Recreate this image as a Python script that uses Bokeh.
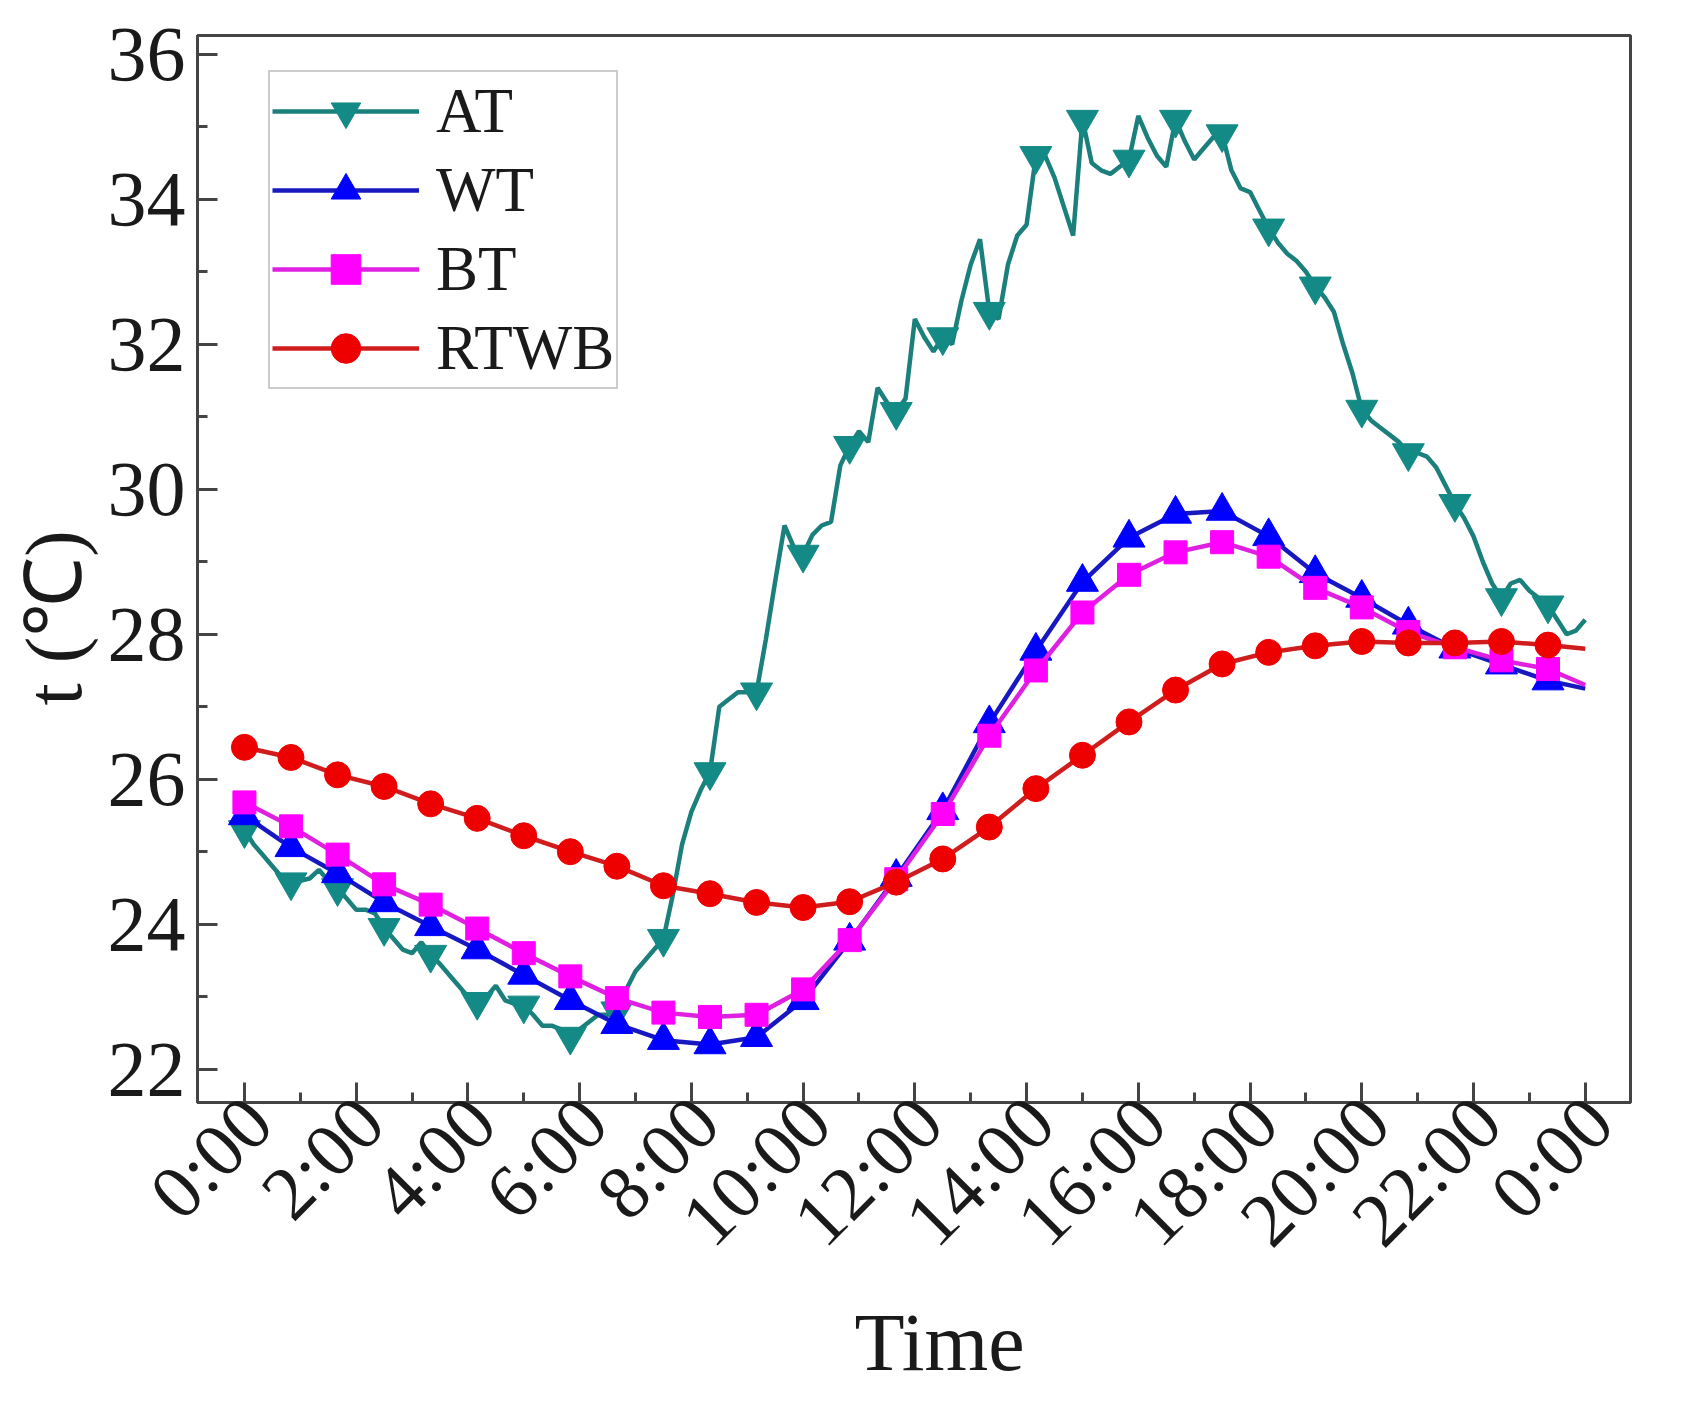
import numpy as np
from math import pi
from bokeh.plotting import figure
from bokeh.models import FixedTicker, Legend, LegendItem, Title, LinearAxis, Range1d
from bokeh.embed import file_html
from bokeh.resources import INLINE

# AT logged every 10 min, 0:00 .. 24:00
at_minutes = np.arange(0, 1441, 10)
at_temp = [
    25.3, 25.1, 24.95, 24.8, 24.65,
    24.58, 24.6, 24.63, 24.75, 24.6,
    24.5, 24.35, 24.2, 24.2, 24.15,
    23.95, 23.8, 23.65, 23.6, 23.75,
    23.58, 23.45, 23.3, 23.15, 23.0,
    22.93, 23.0, 23.15, 22.95, 22.9,
    22.88, 22.75, 22.6, 22.6, 22.55,
    22.45, 22.55, 22.65, 22.75, 22.75,
    22.8, 23.1, 23.35, 23.5, 23.65,
    23.8, 24.4, 25.1, 25.55, 25.85,
    26.1, 27.0, 27.1, 27.2, 27.2,
    27.2, 27.93, 28.73, 29.5, 29.2,
    29.1, 29.37, 29.5, 29.55, 30.33,
    30.6, 30.8, 30.65, 31.4, 31.2,
    31.07, 31.25, 32.35, 32.1, 31.9,
    32.1, 32.0, 32.6, 33.1, 33.45,
    32.45, 32.35, 33.1, 33.5, 33.65,
    34.6, 34.6, 34.3, 33.9, 33.5,
    35.1, 34.5, 34.4, 34.35, 34.45,
    34.55, 35.15, 34.85, 34.6, 34.45,
    35.1, 34.8, 34.55, 34.7, 34.85,
    34.9, 34.4, 34.15, 34.1, 33.85,
    33.6, 33.4, 33.25, 33.15, 33.0,
    32.8, 32.65, 32.45, 32.0, 31.6,
    31.1, 30.95, 30.85, 30.75, 30.65,
    30.5, 30.5, 30.45, 30.3, 30.05,
    29.8, 29.6, 29.35, 29.0, 28.7,
    28.5, 28.7, 28.75, 28.6, 28.5,
    28.4, 28.2, 28.0, 28.05, 28.2,
]

# WT, BT, RTWB read at the symbols (every 50 min) plus the line end at 24:00
mark_minutes = [0, 50, 100, 150, 200, 250, 300, 350, 400, 450, 500, 550, 600, 650, 700,
                750, 800, 850, 900, 950, 1000, 1050, 1100, 1150, 1200, 1250, 1300, 1350,
                1400, 1440]
wt_temp = [25.5, 25.06, 24.7, 24.3, 23.97, 23.65, 23.3, 22.95, 22.62, 22.4, 22.34, 22.44,
           22.95, 23.77, 24.65, 25.57, 26.77, 27.77, 28.72, 29.33, 29.66, 29.7, 29.35,
           28.84, 28.5, 28.13, 27.8, 27.58, 27.36, 27.25]
bt_temp = [25.68, 25.35, 24.96, 24.55, 24.27, 23.94, 23.6, 23.28, 22.98, 22.78, 22.72, 22.75,
           23.1, 23.78, 24.62, 25.52, 26.6, 27.5, 28.3, 28.82, 29.13, 29.27, 29.07, 28.64,
           28.37, 28.03, 27.82, 27.64, 27.52, 27.3]
rtwb_temp = [26.44, 26.3, 26.06, 25.9, 25.66, 25.46, 25.22, 25.0, 24.8, 24.53, 24.42, 24.3,
             24.23, 24.31, 24.58, 24.9, 25.34, 25.87, 26.33, 26.79, 27.23, 27.59, 27.75,
             27.84, 27.9, 27.88, 27.88, 27.9, 27.85, 27.8]

x_ticks = [0, 2, 4, 6, 8, 10, 12, 14, 16, 18, 20, 22, 24]
x_minor = [1, 3, 5, 7, 9, 11, 13, 15, 17, 19, 21, 23]
x_tick_labels = ["0:00", "2:00", "4:00", "6:00", "8:00", "10:00", "12:00", "14:00",
                 "16:00", "18:00", "20:00", "22:00", "0:00"]
y_ticks = [22, 24, 26, 28, 30, 32, 34, 36]
y_minor = [21, 23, 25, 27, 29, 31, 33, 35]

FONT = "Liberation Serif"
TXT = "#1a1a1a"
AX = "#444444"
X0, X1 = -0.84, 24.81
LABEL_SHIFT = 0.25  # slanted labels sit a little right of their ticks in the original

at_h = np.asarray(at_minutes) / 60.0
mk_h = np.asarray(mark_minutes) / 60.0

p = figure(width=1670, height=1390, x_range=(X0, X1), y_range=(21.54, 36.26),
           output_backend="svg", toolbar_location=None, tools="",
           min_border_left=197, min_border_right=40, min_border_top=35, min_border_bottom=288)
p.background_fill_color = "white"
p.xgrid.grid_line_color = None
p.ygrid.grid_line_color = None
p.outline_line_color = AX
p.outline_line_width = 3

# bottom axis line and the short (odd hour) ticks; no major ticks, so no text
xa = p.xaxis[0]
xa.ticker = FixedTicker(ticks=[], minor_ticks=x_minor)
xa.axis_line_width = 3
xa.axis_line_color = AX
xa.major_tick_out = 0
xa.minor_tick_in = 10
xa.minor_tick_out = 0
xa.minor_tick_line_width = 3
xa.minor_tick_line_color = AX

# second bottom axis on a range shifted left: a value t on it lands at t + LABEL_SHIFT,
# so the labels sit right of the ticks, and the long ticks are given at t - LABEL_SHIFT
# (as its minor ticks) so that they land on the true hour positions
p.extra_x_ranges = {"labels": Range1d(X0 - LABEL_SHIFT, X1 - LABEL_SHIFT)}
label_axis = LinearAxis(x_range_name="labels",
                        ticker=FixedTicker(ticks=x_ticks,
                                           minor_ticks=[t - LABEL_SHIFT for t in x_ticks]),
                        major_label_overrides={t: s for t, s in zip(x_ticks, x_tick_labels)},
                        major_label_orientation=pi / 4, major_label_standoff=7,
                        major_label_text_font=FONT, major_label_text_font_size="76px",
                        major_label_text_color=TXT, axis_line_color=None,
                        major_tick_line_color=None, major_tick_in=0, major_tick_out=0,
                        minor_tick_in=20, minor_tick_out=0, minor_tick_line_width=3,
                        minor_tick_line_color=AX)
p.add_layout(label_axis, "below")

ya = p.yaxis[0]
ya.ticker = FixedTicker(ticks=y_ticks, minor_ticks=y_minor)
ya.axis_line_width = 3
ya.axis_line_color = AX
ya.major_tick_in = 20
ya.major_tick_out = 0
ya.minor_tick_in = 10
ya.minor_tick_out = 0
ya.major_tick_line_width = 3
ya.minor_tick_line_width = 3
ya.major_tick_line_color = AX
ya.minor_tick_line_color = AX
ya.major_label_text_font = FONT
ya.major_label_text_color = TXT
ya.major_label_text_font_size = "78px"
ya.major_label_standoff = 12

# axis titles as side titles so they can sit off-centre like the original
p.add_layout(Title(text="Time", align="left", offset=657, standoff=0,
                   text_font=FONT, text_font_size="82px", text_font_style="normal",
                   text_color=TXT), "below")
p.add_layout(Title(text="t (℃)", align="left", offset=397, standoff=14,
                   text_font=FONT, text_font_size="80px", text_font_style="normal",
                   text_color=TXT), "left")

at_line = p.line(at_h, at_temp, line_color="#1b807c", line_width=4.5)
at_pts = p.scatter(at_h[::5][:29], at_temp[::5][:29], marker="inverted_triangle", size=32,
                   fill_color="#138a85", line_color="#138a85")
wt_line = p.line(mk_h, wt_temp, line_color="#1818c0", line_width=4.5)
wt_pts = p.scatter(mk_h[:29], wt_temp[:29], marker="triangle", size=32,
                   fill_color="#0000ff", line_color="#0000ff")
bt_line = p.line(mk_h, bt_temp, line_color="#e020e0", line_width=4.5)
bt_pts = p.scatter(mk_h[:29], bt_temp[:29], marker="square", size=23,
                   fill_color="#ff00ff", line_color="#ff00ff")
rt_line = p.line(mk_h, rtwb_temp, line_color="#d01c1c", line_width=4.5)
rt_pts = p.scatter(mk_h[:29], rtwb_temp[:29], marker="circle", size=26,
                   fill_color="#ee0000", line_color="#ee0000")

legend = Legend(items=[
    LegendItem(label="AT", renderers=[at_line, at_pts]),
    LegendItem(label="WT", renderers=[wt_line, wt_pts]),
    LegendItem(label="BT", renderers=[bt_line, bt_pts]),
    LegendItem(label="RTWB", renderers=[rt_line, rt_pts]),
], location=(71, 713))
legend.margin = 0
legend.padding = 2
legend.spacing = 5
legend.glyph_width = 147
legend.glyph_height = 74
legend.label_height = 74
legend.label_standoff = 17
legend.label_text_font = FONT
legend.label_text_font_size = "63px"
legend.label_text_color = TXT
legend.border_line_color = "#999999"
legend.border_line_width = 2
legend.background_fill_alpha = 1.0
p.add_layout(legend)

open("out.html", "w").write(file_html(p, INLINE))
